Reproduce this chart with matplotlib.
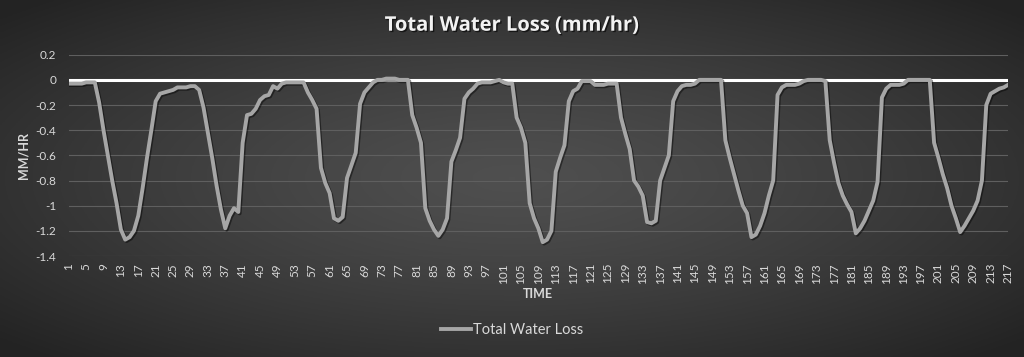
import matplotlib
matplotlib.use('Agg')

import numpy as np
import matplotlib.pyplot as plt
import matplotlib.patheffects as pe
from matplotlib.lines import Line2D

plt.rcParams['font.family'] = ['Lato', 'DejaVu Sans']

# Data
time_steps = list(range(1, 218))
water_loss = [
    -0.03, -0.03, -0.03, -0.03, -0.02, -0.02, -0.02, -0.18, -0.40, -0.60,
    -0.80, -0.98, -1.19, -1.27, -1.25, -1.20, -1.08, -0.86, -0.62, -0.40,
    -0.17, -0.11, -0.10, -0.09, -0.08, -0.06, -0.06, -0.06, -0.05, -0.05,
    -0.08, -0.22, -0.42, -0.62, -0.84, -1.03, -1.18, -1.08, -1.02, -1.05,
    -0.50, -0.28, -0.27, -0.23, -0.16, -0.13, -0.12, -0.05, -0.07, -0.03,
    -0.02, -0.02, -0.02, -0.02, -0.02, -0.10, -0.16, -0.23, -0.70, -0.82,
    -0.90, -1.10, -1.12, -1.09, -0.78, -0.68, -0.58, -0.19, -0.10, -0.06,
    -0.02, 0.00, 0.00, 0.01, 0.01, 0.01, 0.00, 0.00, 0.00, -0.28,
    -0.38, -0.50, -1.02, -1.12, -1.19, -1.24, -1.19, -1.10, -0.65, -0.56,
    -0.46, -0.15, -0.10, -0.07, -0.03, -0.02, -0.02, -0.02, -0.01, 0.00,
    -0.02, -0.03, -0.03, -0.30, -0.38, -0.50, -0.98, -1.10, -1.18, -1.29,
    -1.27, -1.20, -0.73, -0.62, -0.52, -0.17, -0.09, -0.07, -0.01, -0.01,
    -0.01, -0.04, -0.04, -0.04, -0.03, -0.03, -0.03, -0.30, -0.43, -0.55,
    -0.80, -0.85, -0.92, -1.13, -1.14, -1.12, -0.80, -0.70, -0.60, -0.17,
    -0.09, -0.05, -0.04, -0.04, -0.03, 0.00, 0.00, 0.00, 0.00, 0.00,
    0.00, -0.48, -0.62, -0.75, -0.88, -1.00, -1.06, -1.25, -1.23, -1.16,
    -1.06, -0.92, -0.80, -0.12, -0.06, -0.04, -0.04, -0.04, -0.03, -0.01,
    0.00, 0.00, 0.00, 0.00, -0.01, -0.48, -0.66, -0.82, -0.92, -0.99,
    -1.05, -1.22, -1.18, -1.12, -1.04, -0.96, -0.81, -0.14, -0.07, -0.04,
    -0.04, -0.04, -0.03, 0.00, 0.00, 0.00, 0.00, 0.00, 0.00, -0.50,
    -0.62, -0.75, -0.86, -1.00, -1.10, -1.21, -1.16, -1.10, -1.04, -0.96,
    -0.80, -0.20, -0.11, -0.09, -0.07, -0.06, -0.04,
]
y_ticks = [0.2, 0, -0.2, -0.4, -0.6, -0.8, -1, -1.2, -1.4]
y_tick_labels = ['0.2', '0', '-0.2', '-0.4', '-0.6', '-0.8', '-1', '-1.2', '-1.4']
x_ticks = time_steps[::4]

text_color = '#d9d9d9'

fig = plt.figure(figsize=(10.24, 3.57), dpi=100)

# Radial gradient background like the Excel dark style
bg = fig.add_axes([0, 0, 1, 1], zorder=-10)
gx, gy = np.meshgrid(np.linspace(-1, 1, 400), np.linspace(-1, 1, 200))
r = np.clip(np.sqrt(gx ** 2 + gy ** 2) / 1.35, 0, 1)
inner, outer = 0.31, 0.14
shade = inner + (outer - inner) * r ** 1.3
bg.imshow(np.dstack([shade] * 3), aspect='auto', extent=[0, 1, 0, 1])
bg.set_axis_off()

ax = fig.add_axes([0.0671, 0.2829, 0.9173, 0.5639])
ax.patch.set_alpha(0)

for yv in y_ticks:
    if yv != 0:
        ax.axhline(yv, color='#5f5f5f', lw=0.8, zorder=1)
ax.axhline(0, color='white', lw=2.2, zorder=2)

ax.plot(time_steps, water_loss, color='#a6a6a6', lw=2.8, zorder=3,
        solid_joinstyle='round',
        path_effects=[pe.SimpleLineShadow(offset=(1, -1), alpha=0.45, shadow_color='black'),
                      pe.Normal()])

ax.set_xlim(1, 217)
ax.set_ylim(-1.4, 0.2)
ax.set_yticks(y_ticks)
ax.set_yticklabels(y_tick_labels)
ax.set_xticks(x_ticks)
ax.set_xticklabels([str(t) for t in x_ticks], rotation=90)
ax.tick_params(axis='both', length=0, colors=text_color, labelsize=8.5)
ax.tick_params(axis='y', pad=9)
ax.tick_params(axis='x', pad=5)
for s in ax.spines.values():
    s.set_visible(False)

ax.set_xlabel('TIME', color=text_color, fontsize=9, fontweight='bold', labelpad=3)
ax.set_ylabel('MM/HR', color=text_color, fontsize=9, fontweight='bold', labelpad=4)

fig.text(0.5, 0.928, 'Total Water Loss (mm/hr)', ha='center', va='center',
         color='#f2f2f2', fontsize=14.5, fontweight='bold', family=['Open Sans', 'DejaVu Sans'],
         path_effects=[pe.withSimplePatchShadow(offset=(1, -1), alpha=0.6, shadow_rgbFace='black')])

handle = Line2D([], [], color='#a6a6a6', lw=2.8)
leg = fig.legend([handle], ['Total Water Loss'], loc='center', bbox_to_anchor=(0.5, 0.075),
                 frameon=False, fontsize=10.5, handlelength=2.1, handletextpad=0.1)
for t in leg.get_texts():
    t.set_color(text_color)

fig.savefig('out.png', dpi=100)
